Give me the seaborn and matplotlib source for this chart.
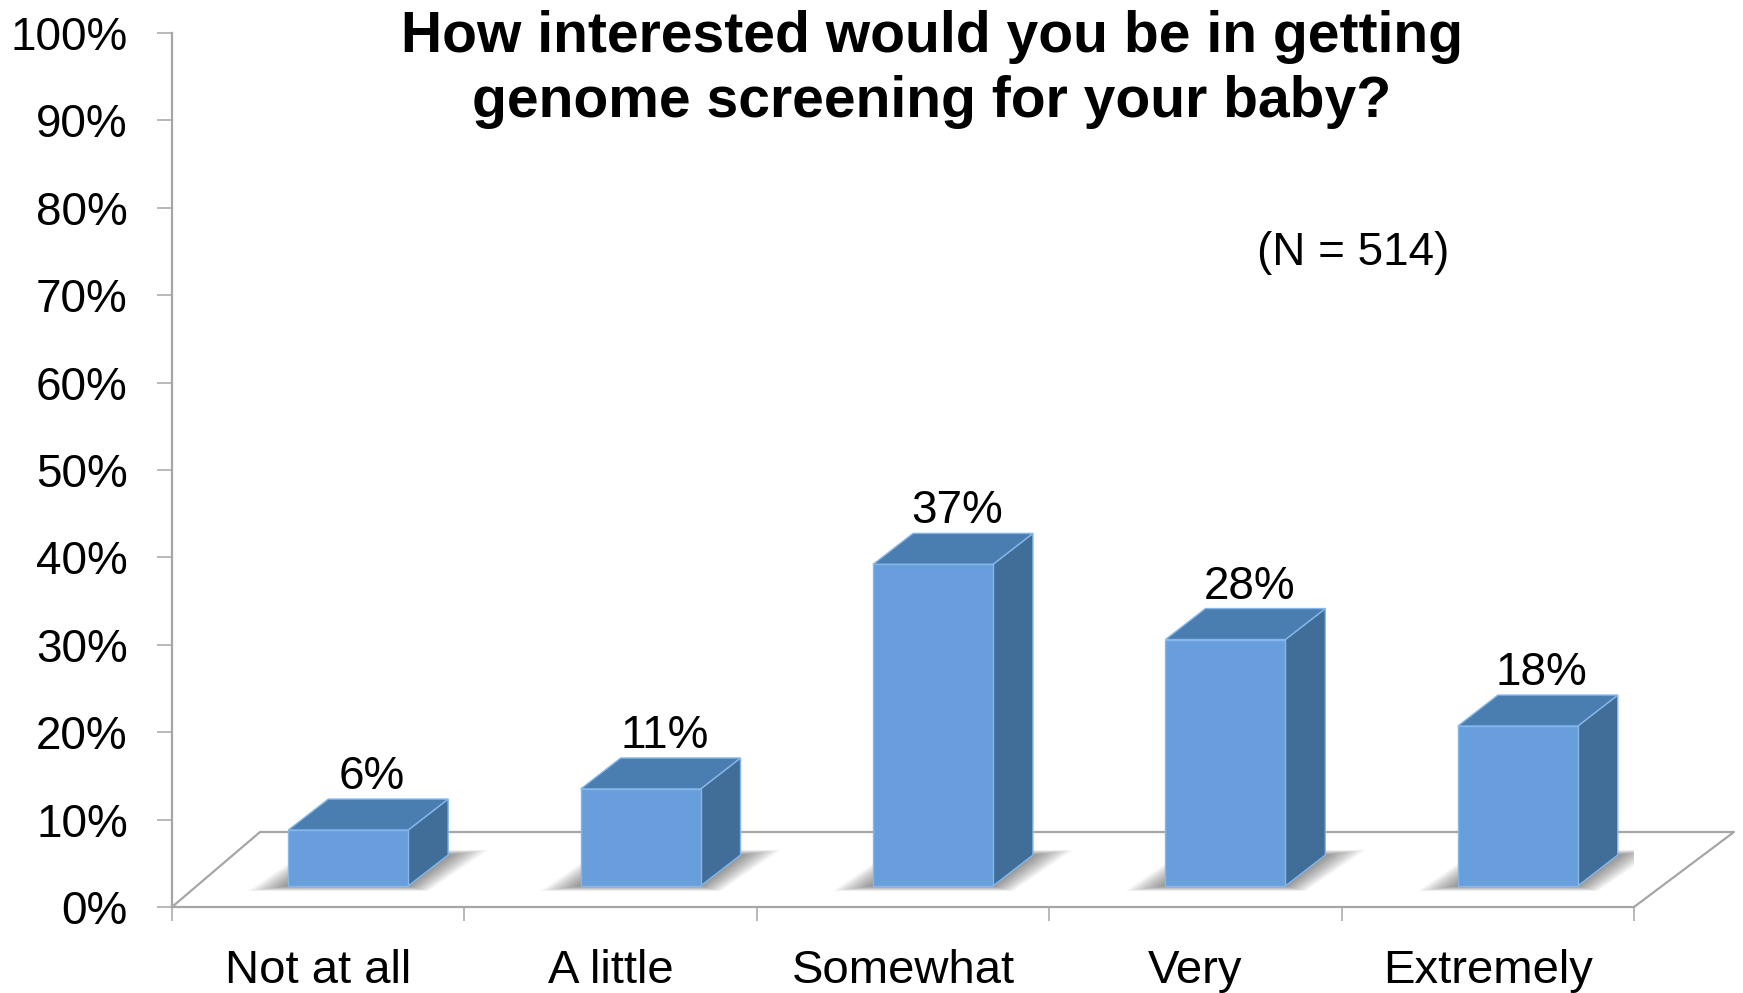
"""Survey bar chart: interest in genome screening for a baby (3D-style bars)."""
import numpy as np
import pandas as pd
import seaborn as sns
import matplotlib.pyplot as plt
from matplotlib import transforms
from matplotlib.patches import Polygon
from matplotlib.lines import Line2D

# data
categories = ['Not at all', 'A little', 'Somewhat', 'Very', 'Extremely']
values = [6.4, 11.1, 36.8, 28.2, 18.3]
y_ticks = [0, 10, 20, 30, 40, 50, 60, 70, 80, 90, 100]
title_lines = ['How interested would you be in getting',
               'genome screening for your baby?']
n_note = '(N = 514)'

W, H = 1743, 993
FRONT = '#679edb'
TOP = '#4a7db0'
SIDE = '#416e99'
EDGE = '#86b7ea'
GRAY = '#a6a6a6'

sns.set_theme(style='white')
plt.rcParams['font.family'] = ['Liberation Sans', 'DejaVu Sans']
plt.rcParams['text.color'] = 'black'

fig = plt.figure(figsize=(W / 100, H / 100), dpi=100)
ax = fig.add_axes([172 / W, (H - 907) / H, (1634 - 172) / W, (907 - 33) / H])

df = pd.DataFrame({'answer': categories, 'pct': values})
sns.barplot(data=df, x='answer', y='pct', color=FRONT, saturation=1,
            width=0.41, edgecolor=EDGE, linewidth=1.0, ax=ax, zorder=4)
ax.set_xlim(-0.5, 4.5)
ax.set_ylim(0, 100)
ax.set_xlabel('')
ax.set_ylabel('')


def shifted(x, y, dx, dy):
    # data point moved by a pixel offset, back in data coords
    px = ax.transData.transform((x, y)) + np.array([dx, dy])
    return ax.transData.inverted().transform(px)


# floor of the 3d plot
floor = [shifted(-0.5, 0, 0, 0), shifted(-0.5, 0, 88, 75),
         shifted(4.5, 0, 100, 75), shifted(4.5, 0, 0, 0)]
floor = np.array(floor)
ax.add_line(Line2D(floor[:, 0], floor[:, 1], color=GRAY, lw=1.6,
                   clip_on=False, zorder=1))

# bars sit a bit back from the front edge; depth goes up-right
BX, BY = 30, 21
DX, DY = 40, 31
bar_tf = transforms.offset_copy(ax.transData, fig=fig, x=BX, y=BY, units='dots')

for p in ax.patches[:len(values)]:
    x0, w, h = p.get_x(), p.get_width(), p.get_height()
    x1 = x0 + w
    p.set_transform(bar_tf)

    # soft shadow on the floor, many faint layers
    for e in np.arange(40, 0, -3):
        shadow = [shifted(x0, 0, BX - e, BY - e / 8),
                  shifted(x1, 0, BX + e * 0.5, BY - e / 8),
                  shifted(x1, 0, BX + DX + e, BY + DY + e / 8),
                  shifted(x0, 0, BX + DX - e * 0.5, BY + DY + e / 8)]
        ax.add_patch(Polygon(shadow, closed=True, facecolor='black',
                             edgecolor='none', alpha=0.035, zorder=2))

    top = [shifted(x0, h, BX, BY), shifted(x1, h, BX, BY),
           shifted(x1, h, BX + DX, BY + DY), shifted(x0, h, BX + DX, BY + DY)]
    side = [shifted(x1, 0, BX, BY), shifted(x1, h, BX, BY),
            shifted(x1, h, BX + DX, BY + DY), shifted(x1, 0, BX + DX, BY + DY)]
    ax.add_patch(Polygon(side, closed=True, facecolor=SIDE, edgecolor=EDGE,
                         lw=1.0, zorder=3))
    ax.add_patch(Polygon(top, closed=True, facecolor=TOP, edgecolor=EDGE,
                         lw=1.0, zorder=3))

# value labels
for i, v in enumerate(values):
    ax.annotate(f'{round(v)}%', xy=(i, v), xytext=(54, 62),
                textcoords='offset pixels', ha='center', va='baseline',
                fontsize=33, color='black')

# axes styling
sns.despine(ax=ax, top=True, right=True)
for side_name in ['left', 'bottom']:
    ax.spines[side_name].set_color(GRAY)
    ax.spines[side_name].set_linewidth(1.6)

ax.set_yticks(y_ticks)
ax.set_yticklabels([f'{t}%' for t in y_ticks])
ax.tick_params(axis='y', left=True, length=10.8, width=1.1, color=GRAY,
               pad=21, labelsize=33, labelcolor='black')
ax.set_xticks(range(len(categories)))
ax.set_xticklabels(categories)
ax.set_xticks(np.arange(-0.5, len(categories), 1), minor=True)
ax.tick_params(axis='x', which='major', length=0, pad=30, labelsize=34,
               labelcolor='black')
ax.tick_params(axis='x', which='minor', bottom=True, length=10, width=1.1,
               color=GRAY)
ax.grid(False)

# title and sample size
fig.text(932 / W, 1 - 52 / H, title_lines[0], ha='center', va='baseline',
         fontsize=41, fontweight='bold', color='black')
fig.text(932 / W, 1 - 117 / H, title_lines[1], ha='center', va='baseline',
         fontsize=41, fontweight='bold', color='black')
fig.text(1353 / W, 1 - 265 / H, n_note, ha='center', va='baseline',
         fontsize=33, color='black')

fig.savefig('out.png', dpi=100, facecolor='white')
